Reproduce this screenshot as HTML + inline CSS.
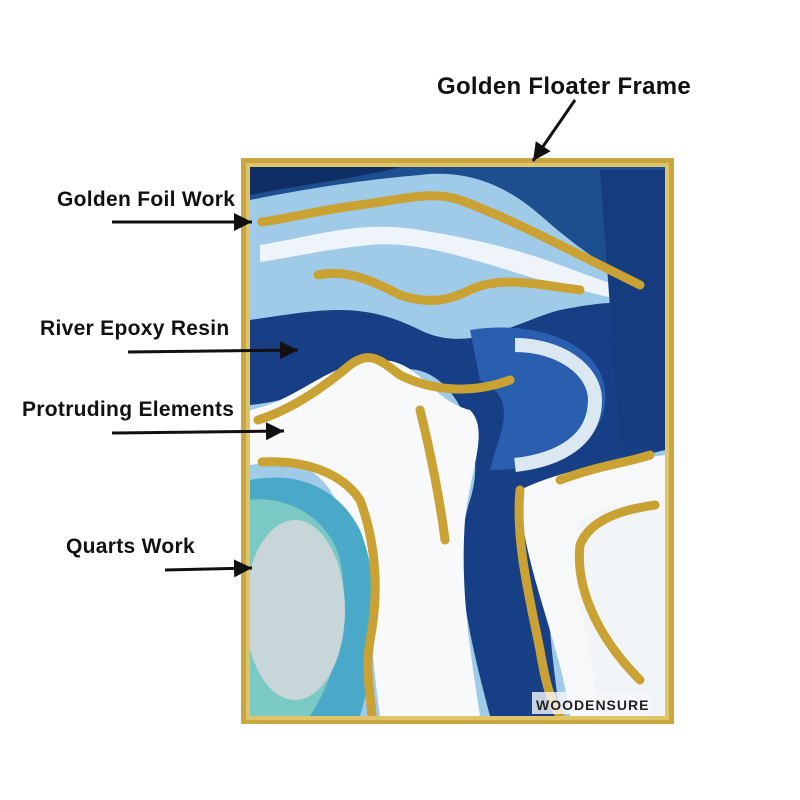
<!DOCTYPE html>
<html><head><style>
html,body{margin:0;padding:0;background:#fff;width:800px;height:800px;overflow:hidden}
.t{position:absolute;font-family:"Liberation Sans",sans-serif;font-weight:bold;color:#111;white-space:nowrap}
</style></head><body>
<div style="position:relative;width:800px;height:800px">
<svg width="800" height="800" style="position:absolute;left:0;top:0">
<defs>
<clipPath id="c"><rect x="250" y="167" width="415" height="549"/></clipPath>
<marker id="a" markerWidth="8" markerHeight="8" refX="6" refY="4" orient="auto" markerUnits="strokeWidth"><path d="M0,1 L6,4 L0,7 Z" fill="#111"/></marker>
</defs>
<rect x="241" y="158" width="433" height="566" fill="#c9a640"/>
<rect x="246" y="163" width="423" height="557" fill="#e0c46a"/>
<g clip-path="url(#c)">
<rect x="250" y="167" width="415" height="549" fill="#9fcbe8"/>
<path d="M250,167 L665,167 L665,290 C620,280 580,250 540,215 C500,180 460,170 420,175 C360,180 300,190 250,200 Z" fill="#1d4e8f"/>
<path d="M250,167 L400,167 C360,178 300,185 250,195 Z" fill="#0f2e66"/>
<path d="M260,245 C320,235 360,220 420,230 C480,240 520,250 560,265 C600,280 630,290 660,300 L660,310 C620,300 580,290 540,280 C480,262 420,240 370,245 C320,250 290,258 260,262 Z" fill="#eef4fa"/>
<path d="M250,320 C320,310 360,300 420,330 C470,355 520,320 560,310 C610,300 640,300 665,310 L665,450 C620,460 580,480 560,520 C540,570 550,640 560,716 L490,716 C470,640 450,560 470,500 C490,440 450,360 400,370 C340,380 300,400 250,405 Z" fill="#173f86"/>
<path d="M600,170 L665,170 L665,450 L620,445 Z" fill="#163c80"/>
<path d="M250,410 C300,400 330,360 380,360 C420,360 430,400 470,410 C490,430 470,470 465,520 C460,590 470,650 480,716 L380,716 C370,650 370,560 330,490 C310,460 280,460 250,465 Z" fill="#f7f9fb"/>
<path d="M470,330 C530,320 600,340 605,390 C610,440 560,470 490,470 C500,430 520,400 480,380 Z" fill="#2a5fb0"/>
<path d="M515,345 C560,345 595,370 595,400 C595,440 560,460 515,465" fill="none" stroke="#dbe8f2" stroke-width="14"/>
<path d="M250,480 C300,470 340,490 360,530 C380,580 380,650 360,716 L250,716 Z" fill="#4aa9c9"/>
<path d="M250,500 C290,495 330,520 340,560 C350,610 340,670 310,716 L250,716 Z" fill="#7ac9c5"/>
<ellipse cx="295" cy="610" rx="50" ry="90" fill="#c9d6d9"/>
<path d="M520,490 C560,470 620,460 665,455 L665,716 L570,716 C560,640 520,560 520,490 Z" fill="#f6f8fa"/>
<path d="M580,520 C610,500 640,505 665,500 L665,716 L600,716 C590,640 570,580 580,520 Z" fill="#f1f5f7"/>
<g fill="none" stroke="#c9a233" stroke-width="9" stroke-linecap="round" stroke-linejoin="round">
<path d="M262,222 C290,218 320,210 360,205 C400,200 430,190 460,200 C500,215 530,230 570,250 C590,260 610,270 640,285"/>
<path d="M318,275 C350,268 380,285 400,295 C430,305 450,300 470,290 C500,275 540,285 580,290"/>
<path d="M258,420 C290,410 320,390 350,365 C370,350 380,360 400,375 C430,390 470,395 510,380"/>
<path d="M262,462 C300,460 340,470 360,500 C375,540 380,590 370,640 C365,670 370,690 372,716"/>
<path d="M420,410 C430,450 440,500 445,540"/>
<path d="M560,480 C600,465 630,462 650,455 M520,490 C515,540 530,600 540,650 C545,680 550,700 560,716"/>
<path d="M655,505 C620,510 590,520 580,545 C575,590 600,640 640,680"/>
</g>
<rect x="532" y="692" width="118" height="22" fill="#f6f8fa" opacity="0.8"/>
<text x="536" y="710" font-family="Liberation Sans,sans-serif" font-weight="bold" font-size="14" fill="#222" letter-spacing="1">WOODENSURE</text>
</g>
<g stroke="#111" stroke-width="3" fill="none">
<line x1="112" y1="222" x2="252" y2="222" marker-end="url(#a)"/>
<line x1="128" y1="352" x2="298" y2="350" marker-end="url(#a)"/>
<line x1="112" y1="433" x2="284" y2="431" marker-end="url(#a)"/>
<line x1="165" y1="570" x2="252" y2="568" marker-end="url(#a)"/>
<line x1="575" y1="100" x2="533" y2="161" marker-end="url(#a)"/>
</g>
</svg>
<div class="t" style="left:437px;top:73px;font-size:24px;letter-spacing:0.3px">Golden Floater Frame</div>
<div class="t" style="left:57px;top:188px;font-size:21px;letter-spacing:0.3px">Golden Foil Work</div>
<div class="t" style="left:40px;top:317px;font-size:21px;letter-spacing:0.3px">River Epoxy Resin</div>
<div class="t" style="left:22px;top:398px;font-size:21px;letter-spacing:0.3px">Protruding Elements</div>
<div class="t" style="left:66px;top:535px;font-size:21px;letter-spacing:0.3px">Quarts Work</div>
</div>
</body></html>
